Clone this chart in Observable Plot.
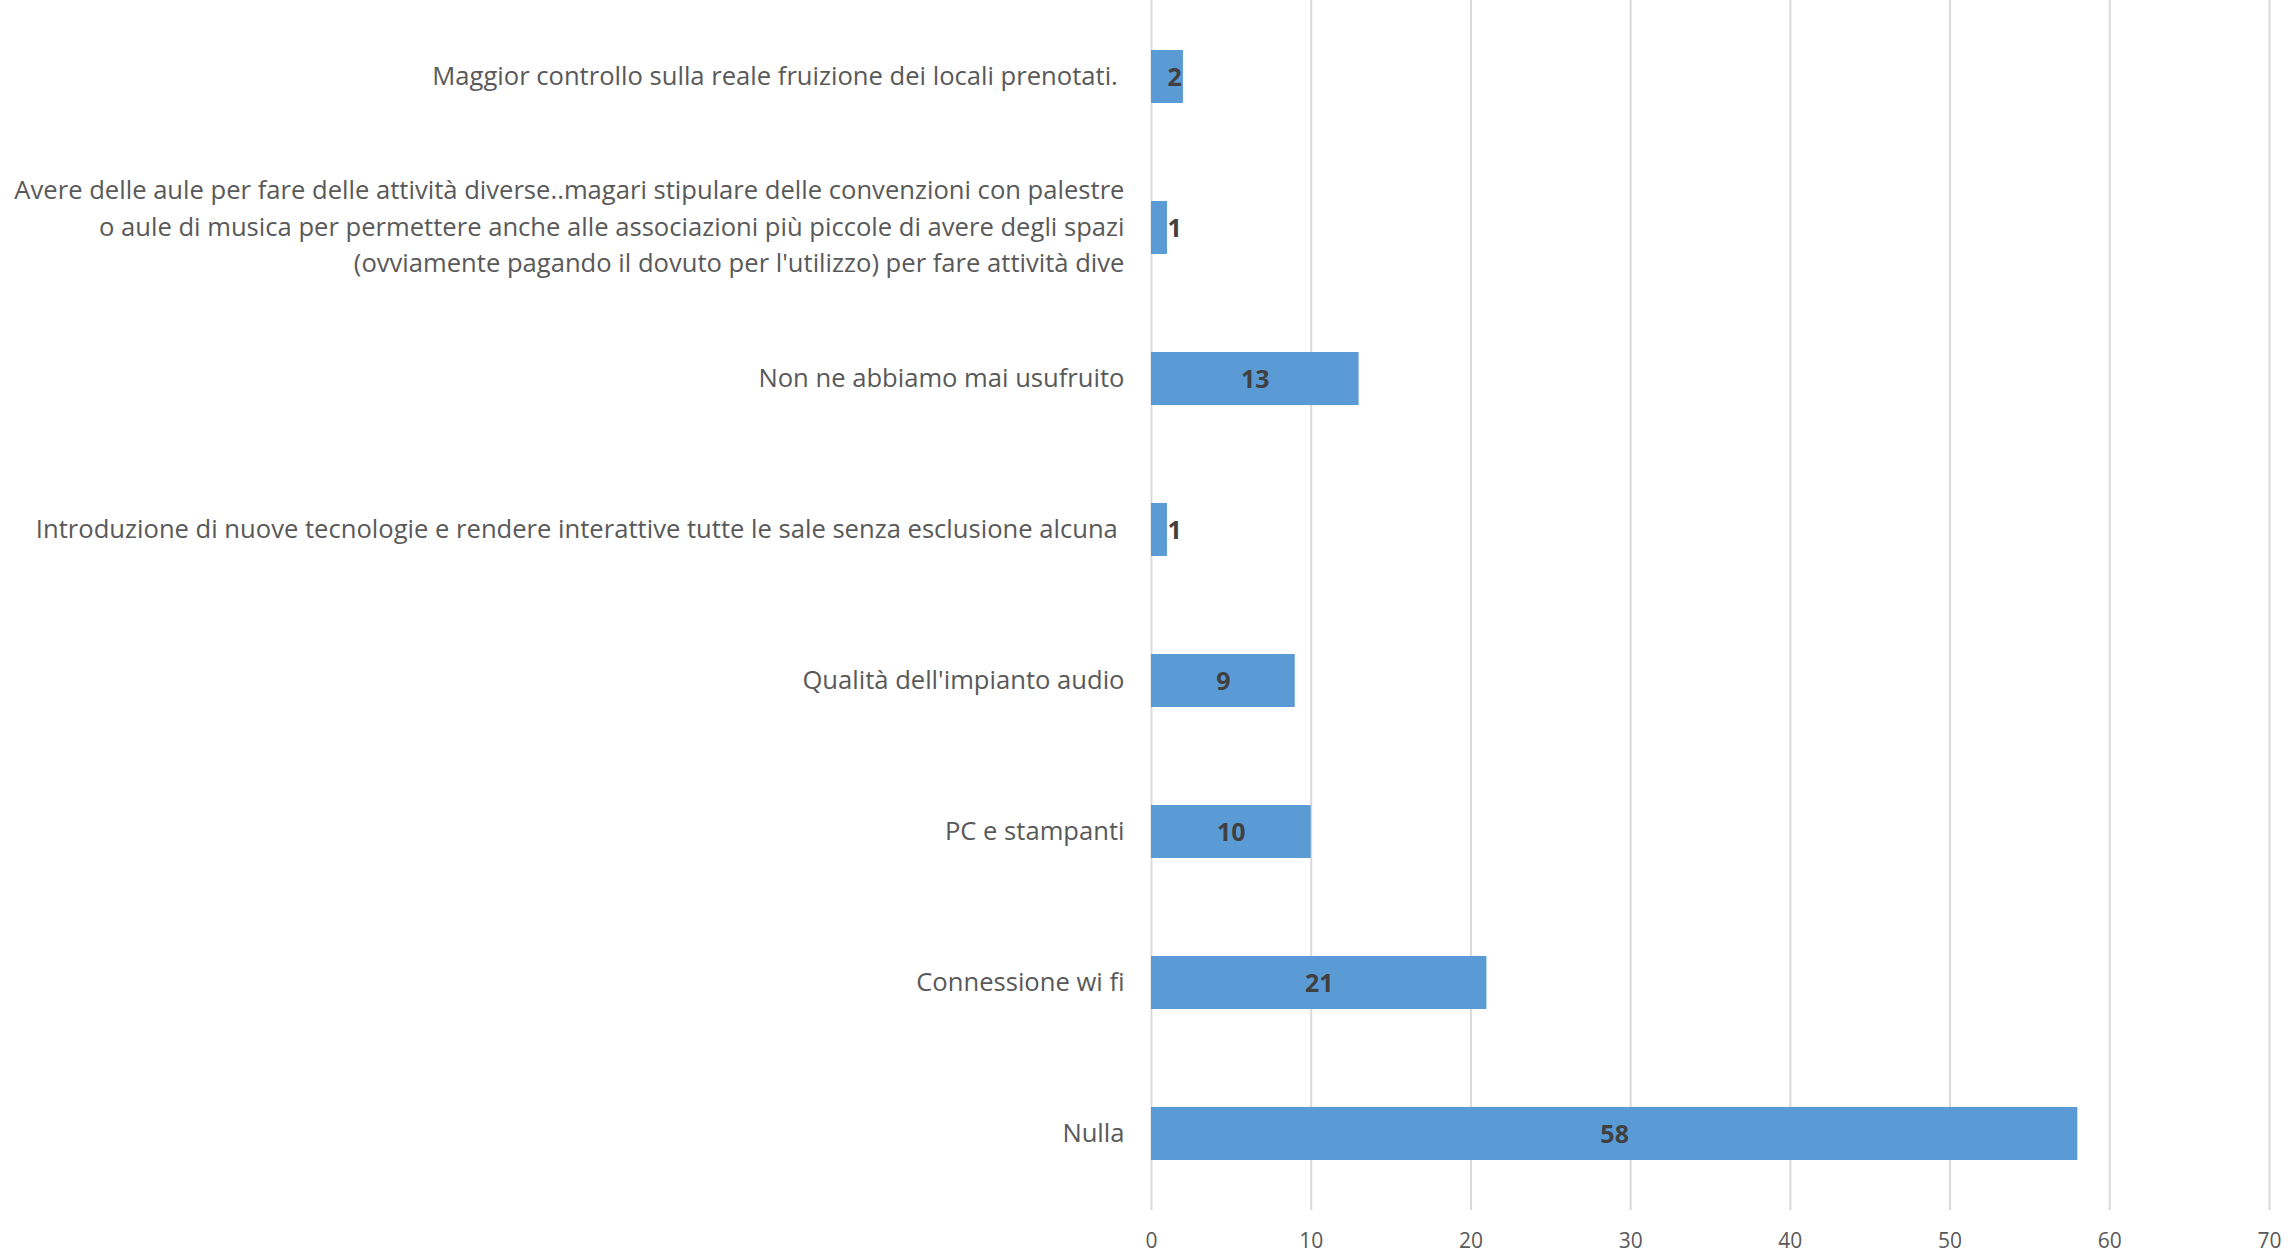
<!DOCTYPE html>
<html>
<head>
<meta charset="utf-8">
<script src="https://cdn.jsdelivr.net/npm/d3@7"></script>
<script src="https://cdn.jsdelivr.net/npm/@observablehq/plot@0.6"></script>
<style>
  html, body { margin: 0; padding: 0; background: #ffffff; }
  #chart svg { display: block; }
</style>
</head>
<body>
<div id="chart"></div>
<script>
// Categories, top to bottom
const categories = [
  "Maggior controllo sulla reale fruizione dei locali prenotati.\u00a0",
  "Avere delle aule per fare delle attività diverse..magari stipulare delle convenzioni con palestre\no aule di musica per permettere anche alle associazioni più piccole di avere degli spazi\n(ovviamente pagando il dovuto per l'utilizzo) per fare attività dive",
  "Non ne abbiamo mai usufruito",
  "Introduzione di nuove tecnologie e rendere interattive tutte le sale senza esclusione alcuna\u00a0",
  "Qualità dell'impianto audio",
  "PC e stampanti",
  "Connessione wi fi",
  "Nulla"
];
const values = [2, 1, 13, 1, 9, 10, 21, 58];
const xTicks = [0, 10, 20, 30, 40, 50, 60, 70];

const data = categories.map((c, i) => ({cat: c, value: values[i]}));

const chart = Plot.plot({
  width: 2288,
  height: 1254,
  marginLeft: 1151,
  marginRight: 19,
  marginTop: 0,
  marginBottom: 44,
  style: {fontFamily: "'Open Sans', sans-serif", color: "#595959", background: "#ffffff"},
  x: {domain: [0, 70]},
  y: {domain: categories, paddingInner: 0.65, paddingOuter: 0.325},
  marks: [
    Plot.gridX(xTicks, {stroke: "#d9d9d9", strokeOpacity: 1, strokeWidth: 2}),
    Plot.barX(data, {x: "value", y: "cat", fill: "#5b9bd5"}),
    Plot.text(data, {
      x: d => Math.max(d.value / 2, 1.45),
      y: "cat",
      text: d => String(d.value),
      fontWeight: "bold",
      fontSize: 25,
      dy: 1,
      fill: "#404040"
    }),
    Plot.axisX(xTicks, {tickSize: 0, tickPadding: 23, fontSize: 21, label: null, fill: "#595959"}),
    Plot.axisY({tickSize: 0, tickPadding: 27, fontSize: 25.6, lineHeight: 1.42, dy: -4, label: null, fill: "#595959"})
  ]
});
document.getElementById("chart").appendChild(chart);
</script>
</body>
</html>
